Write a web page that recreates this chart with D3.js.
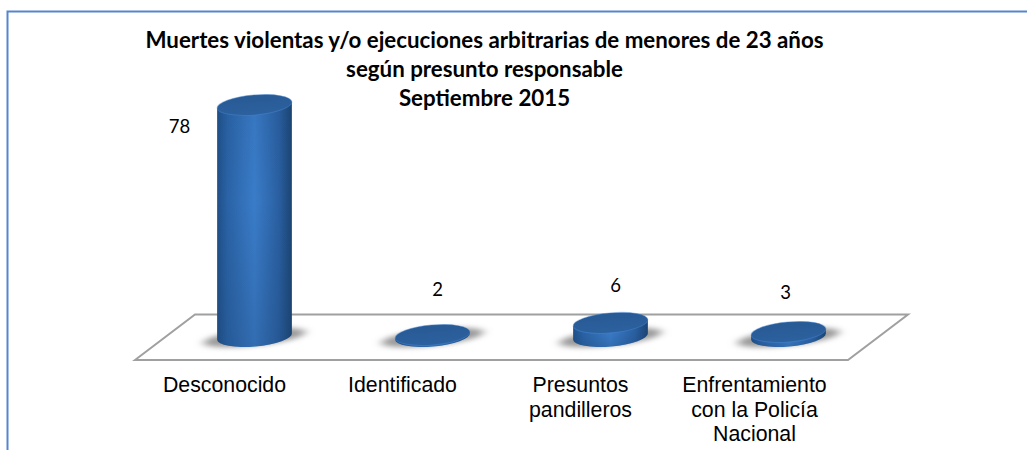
<!DOCTYPE html>
<html>
<head>
<meta charset="utf-8">
<script src="https://cdnjs.cloudflare.com/ajax/libs/d3/7.8.5/d3.min.js"></script>
<style>
  html, body { margin: 0; padding: 0; background: #fff; }
  svg { display: block; }
</style>
</head>
<body>
<div id="graph"></div>
<script>
const titleLines = [
  'Muertes violentas y/o ejecuciones arbitrarias de menores de 23 años',
  'según presunto responsable',
  'Septiembre 2015',
]
const categories = ['Desconocido', 'Identificado', 'Presuntos pandilleros', 'Enfrentamiento con la Policía Nacional']
const categoryLines = [
  ['Desconocido'],
  ['Identificado'],
  ['Presuntos', 'pandilleros'],
  ['Enfrentamiento', 'con la Policía', 'Nacional'],
]
const values = [78, 2, 6, 3]
// the data labels were dragged around by hand in the original
const labelNudge = [
  { dx: -75, dy: 28 },
  { dx: 5, dy: -39 },
  { dx: 5, dy: -31 },
  { dx: -3, dy: -33 },
]
const categoryShift = [-30, -30, -30, -34]

const width = 1027
const height = 450
const baseY = 336.5
const rx = 37.5
const ry = 10
const tilt = -5 // the ellipses lean a bit in the 3d view
const cosT = Math.cos((tilt * Math.PI) / 180)
const sinT = Math.sin((tilt * Math.PI) / 180)

const svg = d3.select('#graph').append('svg').attr('width', width).attr('height', height)
const defs = svg.append('defs')

const bodyGrad = defs.append('linearGradient').attr('id', 'body')
bodyGrad.append('stop').attr('offset', '0%').attr('stop-color', '#1f4f88')
bodyGrad.append('stop').attr('offset', '14%').attr('stop-color', '#2a63a6')
bodyGrad.append('stop').attr('offset', '50%').attr('stop-color', '#3a7cc9')
bodyGrad.append('stop').attr('offset', '82%').attr('stop-color', '#2a60a2')
bodyGrad.append('stop').attr('offset', '100%').attr('stop-color', '#1b4472')

const shadeGrad = defs.append('linearGradient').attr('id', 'shade').attr('x1', 0).attr('x2', 0).attr('y1', 0).attr('y2', 1)
shadeGrad.append('stop').attr('offset', '0%').attr('stop-color', '#1b3f6b').attr('stop-opacity', 0.1)
shadeGrad.append('stop').attr('offset', '40%').attr('stop-color', '#1b3f6b').attr('stop-opacity', 0)
shadeGrad.append('stop').attr('offset', '100%').attr('stop-color', '#1b3f6b').attr('stop-opacity', 0.25)

const capGrad = defs.append('linearGradient').attr('id', 'cap').attr('x1', 0).attr('x2', 0).attr('y1', 0).attr('y2', 1)
capGrad.append('stop').attr('offset', '0%').attr('stop-color', '#285a94')
capGrad.append('stop').attr('offset', '100%').attr('stop-color', '#2c619f')

defs.append('filter').attr('id', 'blur').attr('x', '-30%').attr('width', '160%').attr('y', '-100%').attr('height', '300%')
  .append('feGaussianBlur').attr('stdDeviation', '5 2.5')

// outer frame, only top and left are visible
svg.append('path')
  .attr('d', 'M7.5,450V11.5H1027')
  .attr('fill', 'none')
  .attr('stroke', '#5486cb')
  .attr('stroke-width', 2)

const x = d3.scaleBand().domain(categories).range([165.5, 877.5]).paddingInner(0.579).paddingOuter(0.2895)
// axis does not start at zero in the original
const y = d3.scaleLinear().domain([1.5, 78]).range([baseY, 105])

// floor
svg.append('path')
  .attr('d', 'M135,360L195,314.5H908L848,360Z')
  .attr('fill', '#fff')
  .attr('stroke', '#a0a0a0')
  .attr('stroke-width', 2)

const bars = svg.selectAll('.bar').data(categories).enter().append('g').attr('class', 'bar')
  .attr('transform', (d) => `translate(${x(d) + x.bandwidth() / 2},0)`)

bars.append('ellipse')
  .attr('rx', rx + 14)
  .attr('ry', 8)
  .attr('transform', `translate(0,${baseY + 1}) rotate(-6)`)
  .attr('fill', '#9a9a9a')
  .attr('filter', 'url(#blur)')

const bodyPath = (d, i) => {
  const top = y(values[i])
  const dx = rx * cosT
  const dy = rx * sinT
  return `M${-dx},${top - dy}L${-dx},${baseY - dy}A${rx},${ry} ${tilt} 0 0 ${dx},${baseY + dy}L${dx},${top + dy}Z`
}

bars.append('path').attr('fill', 'url(#body)').attr('d', bodyPath)
bars.append('path').attr('fill', 'url(#shade)').attr('d', bodyPath)

bars.append('ellipse')
  .attr('rx', rx)
  .attr('ry', ry)
  .attr('transform', (d, i) => `translate(0,${y(values[i])}) rotate(${tilt})`)
  .attr('fill', 'url(#cap)')
  .attr('stroke', '#4a8ad6')
  .attr('stroke-opacity', 0.45)
  .attr('stroke-width', 1)

svg.append('g').selectAll('text').data(titleLines).enter().append('text')
  .attr('x', 484.5)
  .attr('y', (d, i) => 48 + i * 29.2)
  .attr('text-anchor', 'middle')
  .attr('font-family', 'Lato, sans-serif')
  .attr('font-weight', 'bold')
  .attr('font-size', 22.3)
  .attr('fill', '#000')
  .text((d) => d)

svg.append('g').selectAll('text').data(values).enter().append('text')
  .attr('x', (d, i) => x(categories[i]) + x.bandwidth() / 2 + labelNudge[i].dx)
  .attr('y', (d, i) => y(d) + labelNudge[i].dy)
  .attr('text-anchor', 'middle')
  .attr('font-family', 'Lato, sans-serif')
  .attr('font-size', 18.5)
  .attr('fill', '#000')
  .text((d) => d)

const axisLabels = svg.append('g').selectAll('g').data(categories).enter().append('g')
  .attr('transform', (d, i) => `translate(${x(d) + x.bandwidth() / 2 + categoryShift[i]},0)`)
axisLabels.selectAll('text').data((d, i) => categoryLines[i]).enter().append('text')
  .attr('y', (d, i) => 392 + i * 24.5)
  .attr('text-anchor', 'middle')
  .attr('font-family', '"Liberation Sans", Arial, sans-serif')
  .attr('font-size', 21.3)
  .attr('fill', '#000')
  .text((d) => d)
</script>
</body>
</html>
